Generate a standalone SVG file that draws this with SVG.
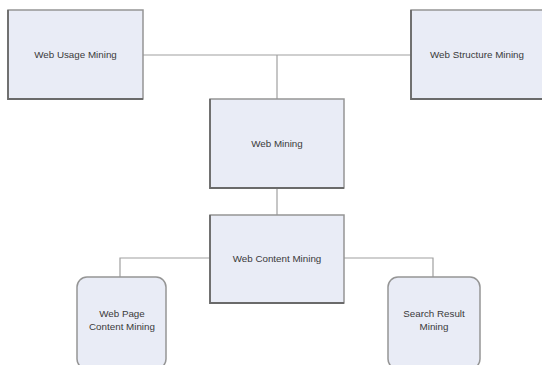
<svg xmlns="http://www.w3.org/2000/svg" width="542" height="365" viewBox="0 0 542 365">
<style>
.box{fill:#e9ecf6;stroke:#959595;stroke-width:1.5}
.sh{fill:none;stroke:#6a6a6a;stroke-width:1.8}
.lbl{font-family:"Liberation Sans",Arial,sans-serif;font-size:9.8px;fill:#3a3a3a;text-anchor:middle}
.conn{fill:none;stroke:#a0a0a0;stroke-width:1.2}
</style>
<rect width="542" height="365" fill="#ffffff"/>
<g id="connectors">
<path class="conn" d="M143 55 H411"/>
<path class="conn" d="M277 55 V99"/>
<path class="conn" d="M277 188 V215"/>
<path class="conn" d="M210 258 H120 V277"/>
<path class="conn" d="M344 258 H433 V277"/>
</g>
<g id="web-usage-mining">
<rect class="box" x="8" y="10" width="135" height="89"/>
<path class="sh" d="M8 10 V99 H143"/>
<text class="lbl" x="75.5" y="58">Web Usage Mining</text>
</g>
<g id="web-structure-mining">
<rect class="box" x="411" y="10" width="134" height="89"/>
<path class="sh" d="M411 10 V99 H545"/>
<text class="lbl" x="477" y="58">Web Structure Mining</text>
</g>
<g id="web-mining">
<rect class="box" x="210" y="99" width="134" height="89"/>
<path class="sh" d="M210 99 V188 H344"/>
<text class="lbl" x="277" y="147">Web Mining</text>
</g>
<g id="web-content-mining">
<rect class="box" x="210" y="215" width="134" height="88"/>
<path class="sh" d="M210 215 V303 H344"/>
<text class="lbl" x="277" y="262">Web Content Mining</text>
</g>
<g id="web-page-content-mining">
<rect class="box" x="77" y="277" width="89" height="92" rx="10"/>
<text class="lbl" x="122" y="317">Web Page</text>
<text class="lbl" x="122" y="330">Content Mining</text>
</g>
<g id="search-result-mining">
<rect class="box" x="388" y="277" width="92" height="92" rx="10"/>
<text class="lbl" x="434" y="317">Search Result</text>
<text class="lbl" x="434" y="330">Mining</text>
</g>
</svg>
